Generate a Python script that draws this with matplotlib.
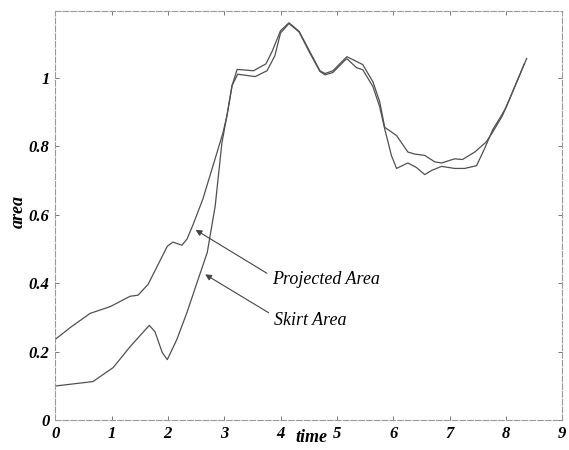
import matplotlib.pyplot as plt

# values
proj_t = [0.0, 0.27, 0.62, 0.98, 1.33, 1.47, 1.65, 1.81, 1.99, 2.09, 2.25, 2.34,
          2.45, 2.62, 2.87, 2.98, 3.05, 3.14, 3.23, 3.52, 3.74, 3.85, 4.0, 4.15,
          4.33, 4.52, 4.7, 4.79, 4.93, 5.14, 5.18, 5.35, 5.46, 5.64, 5.76, 5.85,
          6.06, 6.26, 6.38, 6.56, 6.74, 6.86, 7.09, 7.23, 7.45, 7.65, 7.77, 7.94,
          8.37]
proj_area = [0.236, 0.271, 0.312, 0.332, 0.362, 0.365, 0.397, 0.449, 0.508, 0.52,
             0.511, 0.529, 0.572, 0.645, 0.78, 0.84, 0.89, 0.977, 1.024, 1.02,
             1.04, 1.076, 1.137, 1.16, 1.135, 1.076, 1.02, 1.012, 1.02, 1.055,
             1.061, 1.047, 1.038, 0.988, 0.93, 0.855, 0.831, 0.783, 0.777, 0.773,
             0.754, 0.751, 0.763, 0.761, 0.783, 0.812, 0.842, 0.889, 1.056]

skirt_t = [0.0, 0.67, 1.03, 1.33, 1.67, 1.77, 1.9, 1.99, 2.16, 2.34, 2.52, 2.7,
           2.84, 2.96, 3.05, 3.14, 3.24, 3.55, 3.76, 3.9, 4.0, 4.15, 4.33, 4.52,
           4.7, 4.79, 4.93, 5.14, 5.18, 5.35, 5.46, 5.64, 5.76, 5.85, 5.97, 6.06,
           6.26, 6.41, 6.56, 6.68, 6.86, 7.09, 7.27, 7.48, 7.62, 7.77, 7.92, 8.01,
           8.33]
skirt_area = [0.1, 0.113, 0.154, 0.215, 0.277, 0.259, 0.198, 0.177, 0.236, 0.315,
              0.403, 0.49, 0.625, 0.81, 0.89, 0.977, 1.01, 1.003, 1.02, 1.064,
              1.13, 1.158, 1.133, 1.072, 1.018, 1.008, 1.015, 1.05, 1.055, 1.029,
              1.023, 0.974, 0.915, 0.85, 0.772, 0.735, 0.751, 0.738, 0.717, 0.729,
              0.741, 0.735, 0.735, 0.743, 0.792, 0.849, 0.889, 0.915, 1.041]

x_ticks = [0, 1, 2, 3, 4, 5, 6, 7, 8, 9]
y_ticks = [0, 0.2, 0.4, 0.6, 0.8, 1.0]
y_labels = ["0", "0.2", "0.4", "0.6", "0.8", "1"]

SERIF = "Liberation Serif"

fig = plt.figure(figsize=(5.69, 4.5), dpi=100)
ax = fig.add_axes([0.097, 0.066, 0.891, 0.91])

ax.plot(proj_t, proj_area, color="#505050", lw=0.9)
ax.plot(skirt_t, skirt_area, color="#505050", lw=0.9)

ax.set_xlim(0, 9)
ax.set_ylim(0, 1.195)
ax.set_xticks(x_ticks)
ax.set_xticklabels([str(t) for t in x_ticks])
ax.set_yticks(y_ticks)
ax.set_yticklabels(y_labels)
ax.tick_params(direction="in", length=3, width=0.7, color="#777",
               top=True, right=True, labelsize=12, pad=4)
for lab in ax.get_xticklabels() + ax.get_yticklabels():
    lab.set_fontfamily(SERIF)
    lab.set_fontstyle("italic")
    lab.set_fontweight("bold")

for sp in ax.spines.values():
    sp.set_color("#999")
    sp.set_linewidth(0.8)
    sp.set_linestyle((0, (5, 2)))

# axis titles placed by hand, as in the scan
fig.text(311 / 569, 1 - 438 / 450, "time", fontfamily=SERIF, fontstyle="italic",
         fontweight="bold", fontsize=13, ha="center", va="center")
fig.text(18 / 569, 1 - 212 / 450, "area", fontfamily=SERIF, fontstyle="italic",
         fontweight="bold", fontsize=13, ha="center", va="center", rotation=90)

arrow = dict(arrowstyle="-|>", color="#444", lw=0.8, mutation_scale=9)
ax.annotate("Projected Area", xy=(2.45, 0.56), xytext=(3.85, 0.41),
            fontfamily=SERIF, fontstyle="italic", fontsize=13, va="center",
            arrowprops=dict(arrow, relpos=(0, 0.7)))
ax.annotate("Skirt Area", xy=(2.62, 0.43), xytext=(3.88, 0.29),
            fontfamily=SERIF, fontstyle="italic", fontsize=13, va="center",
            arrowprops=dict(arrow, relpos=(0, 0.8)))

fig.savefig("out.png", dpi=100)
